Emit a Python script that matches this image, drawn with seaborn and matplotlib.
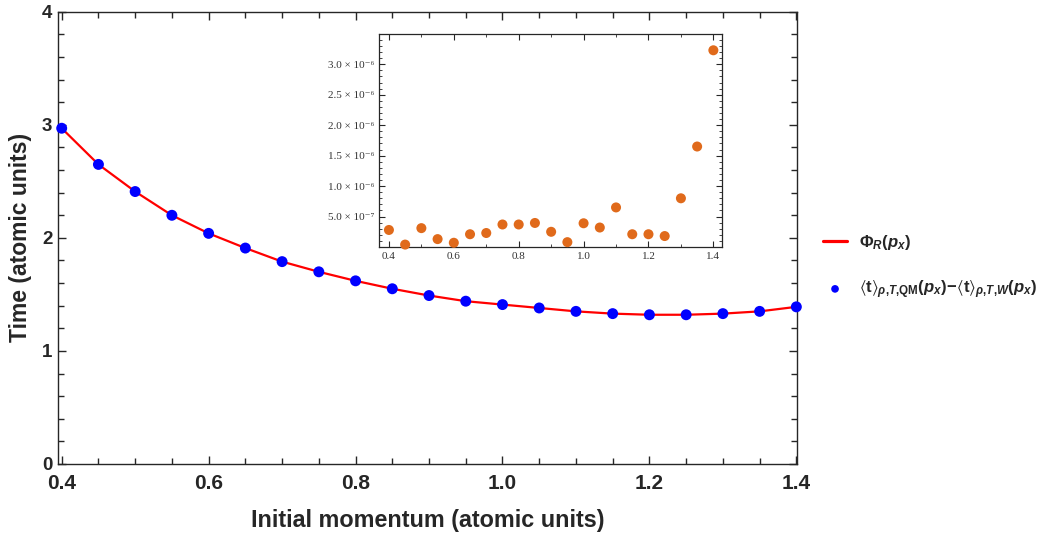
import matplotlib
matplotlib.use("Agg")
import matplotlib.pyplot as plt
import seaborn as sns
import pandas as pd
from matplotlib.ticker import MultipleLocator, FixedLocator, FuncFormatter

# momentum grid and values
momentum = [0.40, 0.45, 0.50, 0.55, 0.60, 0.65, 0.70, 0.75, 0.80, 0.85, 0.90,
            0.95, 1.00, 1.05, 1.10, 1.15, 1.20, 1.25, 1.30, 1.35, 1.40]
phi_r = [2.97, 2.65, 2.41, 2.20, 2.04, 1.91, 1.79, 1.70, 1.62, 1.55, 1.49,
         1.44, 1.41, 1.38, 1.35, 1.33, 1.32, 1.32, 1.33, 1.35, 1.39]
time_diff = [2.97, 2.65, 2.41, 2.20, 2.04, 1.91, 1.79, 1.70, 1.62, 1.55, 1.49,
             1.44, 1.41, 1.38, 1.35, 1.33, 1.32, 1.32, 1.33, 1.35, 1.39]
# absolute difference between the two (inset)
abs_err = [2.8e-7, 0.4e-7, 3.1e-7, 1.3e-7, 0.7e-7, 2.1e-7, 2.3e-7, 3.7e-7, 3.7e-7,
           3.95e-7, 2.5e-7, 0.8e-7, 3.9e-7, 3.2e-7, 6.5e-7, 2.1e-7, 2.1e-7, 1.8e-7,
           8.0e-7, 1.65e-6, 3.23e-6]

dados = pd.DataFrame({'p': momentum, 'phi': phi_r, 't': time_diff, 'err': abs_err})

sns.set_style('ticks')
plt.rcParams['font.family'] = ['Liberation Sans', 'DejaVu Sans']
plt.rcParams['mathtext.fontset'] = 'custom'
plt.rcParams['mathtext.rm'] = 'Liberation Sans:bold'
plt.rcParams['mathtext.it'] = 'Liberation Sans:bold:italic'
plt.rcParams['mathtext.bf'] = 'Liberation Sans:bold'
plt.rcParams['mathtext.fallback'] = 'stixsans'

fig = plt.figure(figsize=(10.38, 5.37), dpi=100)
ax = fig.add_axes([0.0559, 0.136, 0.712, 0.842])

sns.lineplot(data=dados, x='p', y='phi', color='#FF0000', linewidth=1.6, ax=ax,
             label=r'$\Phi_R(p_x)$')
sns.scatterplot(data=dados, x='p', y='t', color='#0000FF', s=62, edgecolor='none',
                ax=ax, zorder=3, clip_on=False,
                label=r'$\langle\mathrm{t}\rangle_{\rho{,}T{,}\mathrm{QM}}(p_x)\!-\!'
                      r'\langle\mathrm{t}\rangle_{\rho{,}T{,}W}(p_x)$')

ax.set_xlim(0.395, 1.401)
ax.set_ylim(0, 4)
ax.xaxis.set_major_locator(MultipleLocator(0.2))
ax.xaxis.set_minor_locator(MultipleLocator(0.05))
ax.yaxis.set_major_locator(MultipleLocator(1))
ax.yaxis.set_minor_locator(MultipleLocator(0.2))
ax.xaxis.set_major_formatter(FuncFormatter(lambda v, _: f'{v:.1f}'))
ax.tick_params(which='both', direction='in', top=True, right=True)
ax.tick_params(axis='x', labelsize=15, pad=7)
ax.tick_params(axis='y', labelsize=13.5, pad=4)
ax.tick_params(which='major', length=6, width=1)
ax.tick_params(which='minor', length=4, width=1)
for lab in ax.get_xticklabels() + ax.get_yticklabels():
    lab.set_fontweight('bold')
for s in ax.spines.values():
    s.set_linewidth(1.0)
ax.set_xlabel('Initial momentum (atomic units)', fontsize=16.8, fontweight='bold', labelpad=12)
ax.set_ylabel('Time (atomic units)', fontsize=16.5, fontweight='bold', labelpad=7)

leg = ax.legend(loc='center left', bbox_to_anchor=(1.035, 0.436), frameon=False,
                fontsize=12, handlelength=1.45, handletextpad=0.7, labelspacing=1.6,
                markerscale=0.7, borderpad=0, borderaxespad=0)
leg.get_lines()[0].set_linewidth(2.3)

# inset
axi = fig.add_axes([0.365, 0.540, 0.331, 0.397])
sns.scatterplot(data=dados, x='p', y='err', color='#E06A1B', s=52, edgecolor='none',
                ax=axi, clip_on=False, zorder=3)
axi.set_xlim(0.369, 1.428)
axi.set_ylim(0, 3.5e-6)
axi.set_xlabel('')
axi.set_ylabel('')
axi.xaxis.set_major_locator(FixedLocator([0.4, 0.6, 0.8, 1.0, 1.2, 1.4]))
axi.xaxis.set_minor_locator(MultipleLocator(0.1))
axi.yaxis.set_major_locator(FixedLocator([5e-7, 1e-6, 1.5e-6, 2e-6, 2.5e-6, 3e-6]))
axi.yaxis.set_minor_locator(MultipleLocator(1e-7))


def fmt_inset(v, _):
    sup = {'-': '\u207b', '6': '\u2076', '7': '\u2077'}
    mant, ex = f'{v:.1e}'.split('e')
    ex = str(int(ex))
    return f'{mant} \u00d7 10' + ''.join(sup[c] for c in ex)


axi.xaxis.set_major_formatter(FuncFormatter(lambda v, _: f'{v:.1f}'))
axi.yaxis.set_major_formatter(FuncFormatter(fmt_inset))
axi.tick_params(which='both', direction='in', top=True, right=True, labelsize=8)
axi.tick_params(which='major', length=4, width=0.8)
axi.tick_params(which='minor', length=2, width=0.6)
for lab in axi.get_xticklabels() + axi.get_yticklabels():
    lab.set_family(['Liberation Serif', 'DejaVu Serif'])
    lab.set_color('#333333')
for s in axi.spines.values():
    s.set_linewidth(0.9)

fig.savefig('out.png', dpi=100)
